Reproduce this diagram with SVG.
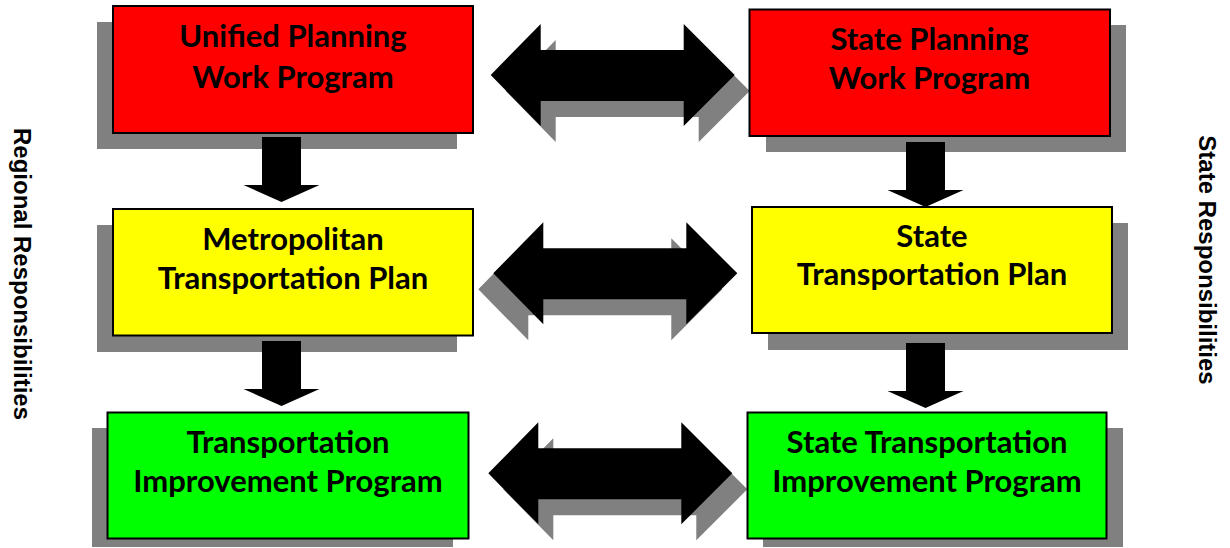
<svg xmlns="http://www.w3.org/2000/svg" width="1230" height="548" viewBox="0 0 1230 548">
<style>
.shadow{fill:#808080}
.box{stroke:#000;stroke-width:2}
.red{fill:#ff0000}
.yellow{fill:#ffff00}
.green{fill:#00ff00}
.arrow{fill:#000}
.label{font-family:Lato,"Open Sans",sans-serif;font-weight:bold;font-size:31px;fill:#000;text-anchor:middle}
.side{font-family:"Liberation Sans",Arial,sans-serif;font-weight:bold;font-size:24px;fill:#000;text-anchor:middle}
</style>
<defs>
<polygon id="darrow" points="0,0 50,-51 50,-25 193,-25 193,-51 244,0 193,51 193,26 50,26 50,51"/>
<polygon id="varrow" points="-19.5,0 19.5,0 19.5,48 38,48 0,65 -38,48 -19.5,48"/>
</defs>
<g id="shadows">
<rect class="shadow" x="97" y="22" width="360" height="127"/>
<rect class="shadow" x="766" y="25" width="360" height="127"/>
<rect class="shadow" x="97" y="225" width="360" height="127"/>
<rect class="shadow" x="768" y="223" width="360" height="127"/>
<rect class="shadow" x="92" y="428" width="361" height="119"/>
<rect class="shadow" x="763" y="428" width="360" height="119"/>
</g>
<g id="connectors">
<g class="shadow">
<use href="#darrow" transform="translate(505.7,91)"/>
<use href="#darrow" transform="translate(478.3,289.3)"/>
<use href="#darrow" transform="translate(503.3,489.3)"/>
</g>
<g class="arrow">
<use href="#varrow" transform="translate(281.5,137)"/>
<use href="#varrow" transform="translate(925.5,142)"/>
<use href="#varrow" transform="translate(281.5,341)"/>
<use href="#varrow" transform="translate(925.5,343)"/>
<use href="#darrow" transform="translate(490.7,75)"/>
<use href="#darrow" transform="translate(493.3,273.3)"/>
<use href="#darrow" transform="translate(488.3,473.3)"/>
</g>
</g>
<g id="upwp">
<rect class="box red" x="113" y="6" width="360" height="127"/>
<text class="label" x="293" y="47">Unified Planning</text>
<text class="label" x="293" y="88">Work Program</text>
</g>
<g id="spwp">
<rect class="box red" x="749.5" y="9.5" width="360.5" height="126.5"/>
<text class="label" x="929.5" y="50">State Planning</text>
<text class="label" x="929.5" y="89">Work Program</text>
</g>
<g id="mtp">
<rect class="box yellow" x="113" y="209" width="360" height="126.5"/>
<text class="label" x="293" y="250">Metropolitan</text>
<text class="label" x="293" y="289">Transportation Plan</text>
</g>
<g id="stp">
<rect class="box yellow" x="752" y="207" width="360" height="126"/>
<text class="label" x="932" y="247">State</text>
<text class="label" x="932" y="285">Transportation Plan</text>
</g>
<g id="tip">
<rect class="box green" x="107.5" y="412.5" width="361" height="126"/>
<text class="label" x="288" y="453">Transportation</text>
<text class="label" x="288" y="492">Improvement Program</text>
</g>
<g id="stip">
<rect class="box green" x="747.5" y="412.5" width="359" height="126"/>
<text class="label" x="927" y="453">State Transportation</text>
<text class="label" x="927" y="492">Improvement Program</text>
</g>
<g id="regional">
<text class="side" transform="translate(14,274) rotate(90)" textLength="292" lengthAdjust="spacing">Regional Responsibilities</text>
</g>
<g id="state">
<text class="side" transform="translate(1199,260) rotate(90)">State Responsibilities</text>
</g>
</svg>
